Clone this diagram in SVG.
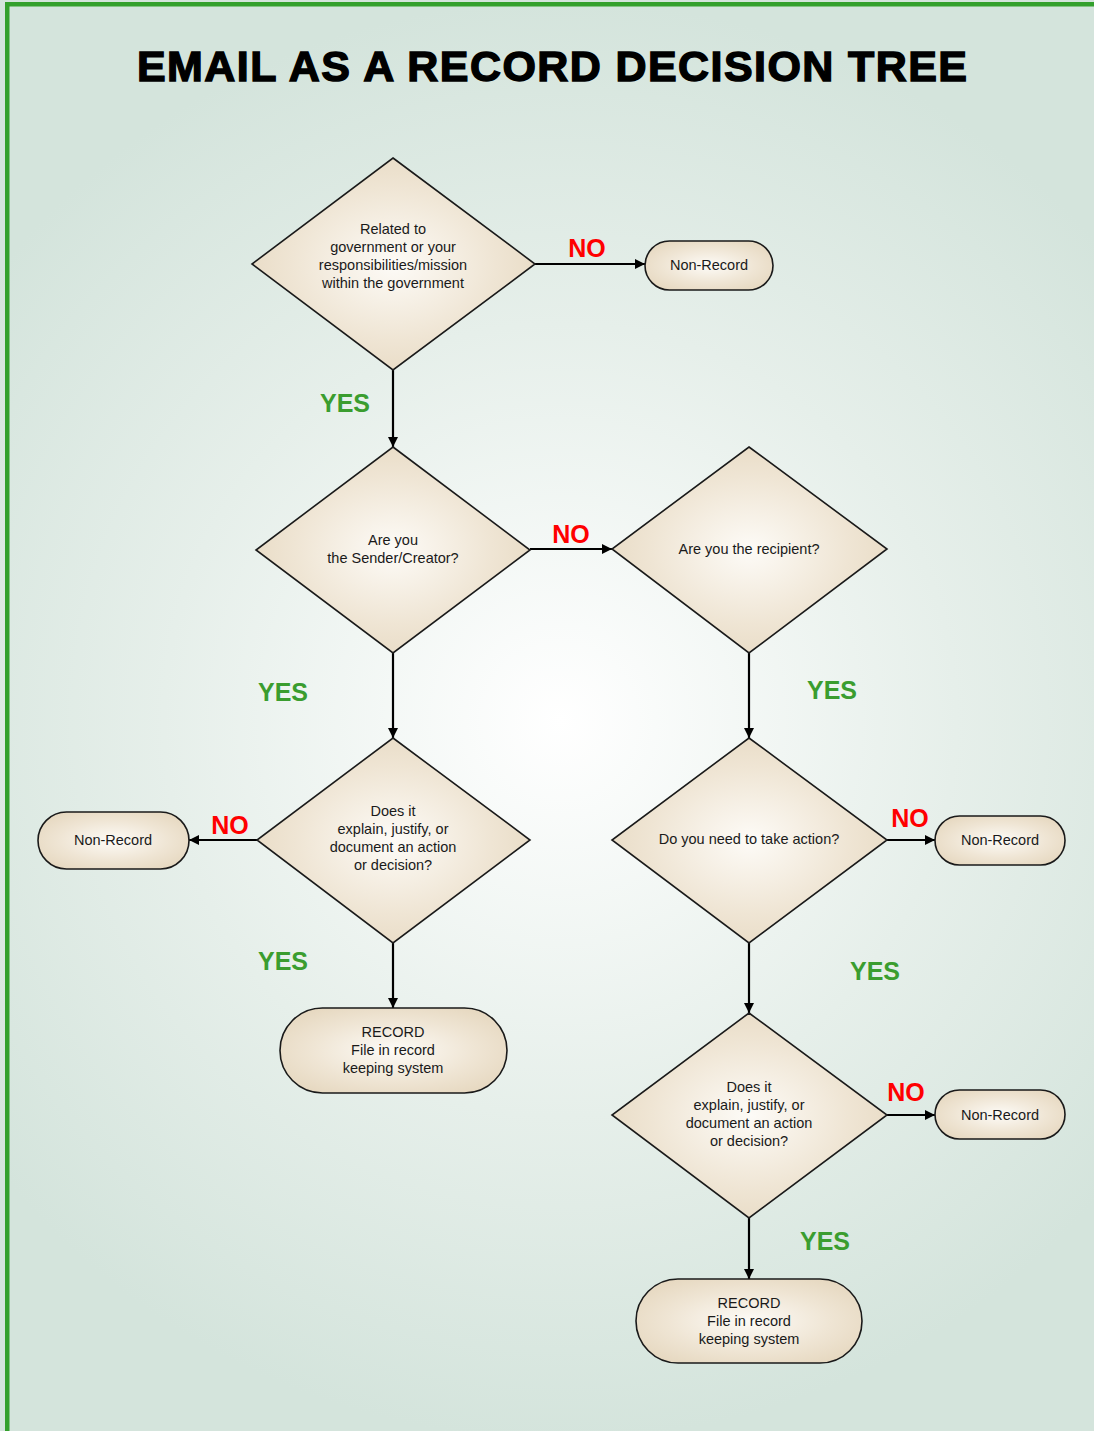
<svg xmlns="http://www.w3.org/2000/svg" width="1094" height="1431" viewBox="0 0 1094 1431">
<defs>
<radialGradient id="bg" cx="560" cy="720" r="720" gradientUnits="userSpaceOnUse">
<stop offset="0" stop-color="#ffffff"/>
<stop offset="0.55" stop-color="#e6efea"/>
<stop offset="1" stop-color="#d4e4dc"/>
</radialGradient>
<radialGradient id="nf" cx="0.5" cy="0.5" r="0.6">
<stop offset="0" stop-color="#fdfbf7"/>
<stop offset="0.6" stop-color="#efe5d4"/>
<stop offset="1" stop-color="#e6d8c0"/>
</radialGradient>
<marker id="ah" viewBox="0 0 10 10" refX="10" refY="5" markerWidth="10" markerHeight="10" markerUnits="userSpaceOnUse" orient="auto">
<path d="M0,0 L10,5 L0,10 Z" fill="#000"/>
</marker>
</defs>
<style>
.n{fill:url(#nf);stroke:#1a1a1a;stroke-width:1.6}
.t{font-family:"Liberation Sans",Arial,sans-serif;font-size:14.5px;fill:#1a1a1a;text-anchor:middle}
.yes{font-family:"Liberation Sans",Arial,sans-serif;font-size:25px;font-weight:bold;fill:#3a9d2f;text-anchor:middle}
.no{font-family:"Liberation Sans",Arial,sans-serif;font-size:25px;font-weight:bold;fill:#ff0000;text-anchor:middle}
.c{stroke:#000;stroke-width:2.2;fill:none;marker-end:url(#ah)}
</style>
<rect x="0" y="0" width="1094" height="1431" fill="url(#bg)"/>
<rect x="5" y="2" width="1089" height="4.5" fill="#33a02c"/>
<rect x="5" y="2" width="4.5" height="1429" fill="#33a02c"/>
<text x="552" y="81" font-family="'Liberation Sans',Arial,sans-serif" font-size="43" font-weight="bold" fill="#000" stroke="#000" stroke-width="1.4" text-anchor="middle" textLength="830" lengthAdjust="spacing">EMAIL AS A RECORD DECISION TREE</text>

<g id="connectors">
<line class="c" x1="535" y1="264" x2="645" y2="264"/>
<line class="c" x1="393" y1="370" x2="393" y2="447"/>
<line class="c" x1="530" y1="549" x2="612" y2="549"/>
<line class="c" x1="393" y1="653" x2="393" y2="738"/>
<line class="c" x1="749" y1="653" x2="749" y2="738"/>
<line class="c" x1="257" y1="840" x2="189" y2="840"/>
<line class="c" x1="393" y1="943" x2="393" y2="1008"/>
<line class="c" x1="887" y1="840" x2="935" y2="840"/>
<line class="c" x1="749" y1="943" x2="749" y2="1013"/>
<line class="c" x1="887" y1="1115" x2="935" y2="1115"/>
<line class="c" x1="749" y1="1218" x2="749" y2="1279"/>
<text class="no" x="587" y="257">NO</text>
<text class="yes" x="345" y="412">YES</text>
<text class="no" x="571" y="543">NO</text>
<text class="yes" x="283" y="701">YES</text>
<text class="yes" x="832" y="699">YES</text>
<text class="no" x="230" y="834">NO</text>
<text class="yes" x="283" y="970">YES</text>
<text class="no" x="910" y="827">NO</text>
<text class="yes" x="875" y="980">YES</text>
<text class="no" x="906" y="1101">NO</text>
<text class="yes" x="825" y="1250">YES</text>
</g>

<g id="d1">
<polygon class="n" points="393,158 535,264 393,370 252,264"/>
<text class="t" x="393" y="234">Related to</text>
<text class="t" x="393" y="252">government or your</text>
<text class="t" x="393" y="270">responsibilities/mission</text>
<text class="t" x="393" y="288">within the government</text>
</g>
<g id="nr1">
<rect class="n" x="645" y="241" width="128" height="49" rx="24.5"/>
<text class="t" x="709" y="270">Non-Record</text>
</g>
<g id="d2">
<polygon class="n" points="393,447 530,550 393,653 256,550"/>
<text class="t" x="393" y="545">Are you</text>
<text class="t" x="393" y="563">the Sender/Creator?</text>
</g>
<g id="d3">
<polygon class="n" points="749,447 887,549 749,653 612,549"/>
<text class="t" x="749" y="554">Are you the recipient?</text>
</g>
<g id="d4">
<polygon class="n" points="393,738 530,840 393,943 257,840"/>
<text class="t" x="393" y="816">Does it</text>
<text class="t" x="393" y="834">explain, justify, or</text>
<text class="t" x="393" y="852">document an action</text>
<text class="t" x="393" y="870">or decision?</text>
</g>
<g id="nr2">
<rect class="n" x="38" y="812" width="151" height="57" rx="28.5"/>
<text class="t" x="113" y="845">Non-Record</text>
</g>
<g id="rec1">
<rect class="n" x="280" y="1008" width="227" height="85" rx="42.5"/>
<text class="t" x="393" y="1037">RECORD</text>
<text class="t" x="393" y="1055">File in record</text>
<text class="t" x="393" y="1073">keeping system</text>
</g>
<g id="d5">
<polygon class="n" points="749,738 887,840 749,943 612,840"/>
<text class="t" x="749" y="844">Do you need to take action?</text>
</g>
<g id="nr3">
<rect class="n" x="935" y="816" width="130" height="49" rx="24.5"/>
<text class="t" x="1000" y="845">Non-Record</text>
</g>
<g id="d6">
<polygon class="n" points="749,1013 887,1115 749,1218 612,1115"/>
<text class="t" x="749" y="1092">Does it</text>
<text class="t" x="749" y="1110">explain, justify, or</text>
<text class="t" x="749" y="1128">document an action</text>
<text class="t" x="749" y="1146">or decision?</text>
</g>
<g id="nr4">
<rect class="n" x="935" y="1090" width="130" height="49" rx="24.5"/>
<text class="t" x="1000" y="1120">Non-Record</text>
</g>
<g id="rec2">
<rect class="n" x="636" y="1279" width="226" height="84" rx="42"/>
<text class="t" x="749" y="1308">RECORD</text>
<text class="t" x="749" y="1326">File in record</text>
<text class="t" x="749" y="1344">keeping system</text>
</g>
</svg>
